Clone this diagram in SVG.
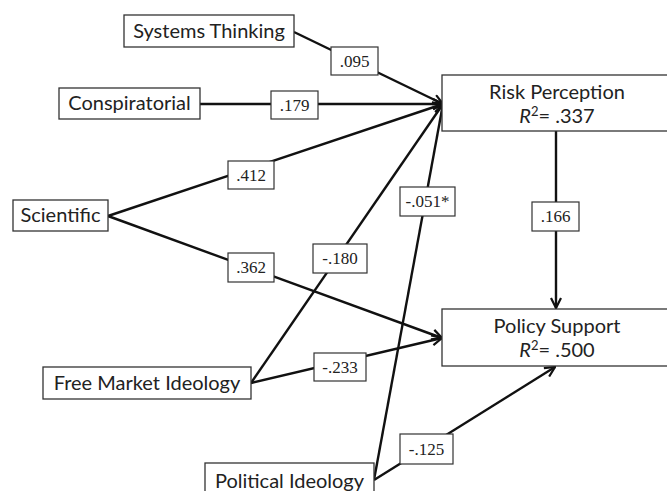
<svg xmlns="http://www.w3.org/2000/svg" width="667" height="491" viewBox="0 0 667 491">
<defs>
<style>
.node{fill:#fff;stroke:#333;stroke-width:1.3}
.nt{font-family:Lato,"Open Sans",sans-serif;font-size:20px;fill:#222;text-anchor:middle}
.lab{fill:#fff;stroke:#333;stroke-width:1.2}
.lt{font-family:"Liberation Serif",serif;font-size:17px;fill:#222;text-anchor:middle}
.edge{stroke:#111;stroke-width:2.4;fill:none;marker-end:url(#ah)}
</style>
<marker id="ah" viewBox="0 0 12 12" refX="11" refY="6" markerWidth="12" markerHeight="12" markerUnits="userSpaceOnUse" orient="auto">
<path d="M1,1 L11,6 L1,11" fill="none" stroke="#111" stroke-width="2.2"/>
</marker>
</defs>
<rect width="667" height="491" fill="#fff"/>
<g id="connectors">
<line class="edge" x1="294" y1="32" x2="443" y2="104"/>
<line class="edge" x1="200" y1="104" x2="443" y2="104"/>
<line class="edge" x1="108" y1="216" x2="443" y2="104"/>
<line class="edge" x1="108" y1="216" x2="442" y2="338"/>
<line class="edge" x1="251" y1="383" x2="443" y2="104"/>
<line class="edge" x1="251" y1="383" x2="442" y2="338"/>
<line class="edge" x1="374" y1="480" x2="443" y2="104"/>
<line class="edge" x1="374" y1="480" x2="555" y2="367"/>
<line class="edge" x1="556" y1="131" x2="556" y2="308"/>
<g id="labels">
<rect class="lab" x="331" y="47" width="47" height="28"/><text class="lt" x="354.5" y="67">.095</text>
<rect class="lab" x="271" y="91" width="47" height="28"/><text class="lt" x="294.5" y="111">.179</text>
<rect class="lab" x="228" y="161" width="46" height="28"/><text class="lt" x="251" y="181">.412</text>
<rect class="lab" x="228" y="253" width="46" height="29"/><text class="lt" x="251" y="273">.362</text>
<rect class="lab" x="313" y="244" width="54" height="29"/><text class="lt" x="340" y="264">-.180</text>
<rect class="lab" x="400" y="187" width="55" height="29"/><text class="lt" x="427.5" y="207">-.051*</text>
<rect class="lab" x="532" y="202" width="47" height="29"/><text class="lt" x="555.5" y="222">.166</text>
<rect class="lab" x="314" y="353" width="52" height="28"/><text class="lt" x="340" y="373">-.233</text>
<rect class="lab" x="400" y="434" width="53" height="30"/><text class="lt" x="426.5" y="455">-.125</text>
</g>
</g>
<g id="systems-thinking"><rect class="node" x="124" y="15" width="170" height="32"/><text class="nt" x="209" y="38">Systems Thinking</text></g>
<g id="conspiratorial"><rect class="node" x="59" y="88" width="141" height="31"/><text class="nt" x="129.5" y="110">Conspiratorial</text></g>
<g id="scientific"><rect class="node" x="13" y="200" width="95" height="31"/><text class="nt" x="60.5" y="222">Scientific</text></g>
<g id="free-market"><rect class="node" x="43" y="367" width="208" height="32"/><text class="nt" x="147" y="390">Free Market Ideology</text></g>
<g id="political"><rect class="node" x="205" y="463" width="169" height="34"/><text class="nt" x="289.5" y="488">Political Ideology</text></g>
<g id="risk-perception"><rect class="node" x="442" y="75" width="232" height="56"/><text class="nt" x="557" y="99">Risk Perception</text><text class="nt" x="557" y="123"><tspan font-style="italic">R</tspan><tspan font-size="13" dy="-7">2</tspan><tspan dy="7">= .337</tspan></text></g>
<g id="policy-support"><rect class="node" x="442" y="309" width="232" height="57"/><text class="nt" x="557" y="333">Policy Support</text><text class="nt" x="557" y="357"><tspan font-style="italic">R</tspan><tspan font-size="13" dy="-7">2</tspan><tspan dy="7">= .500</tspan></text></g>
</svg>
